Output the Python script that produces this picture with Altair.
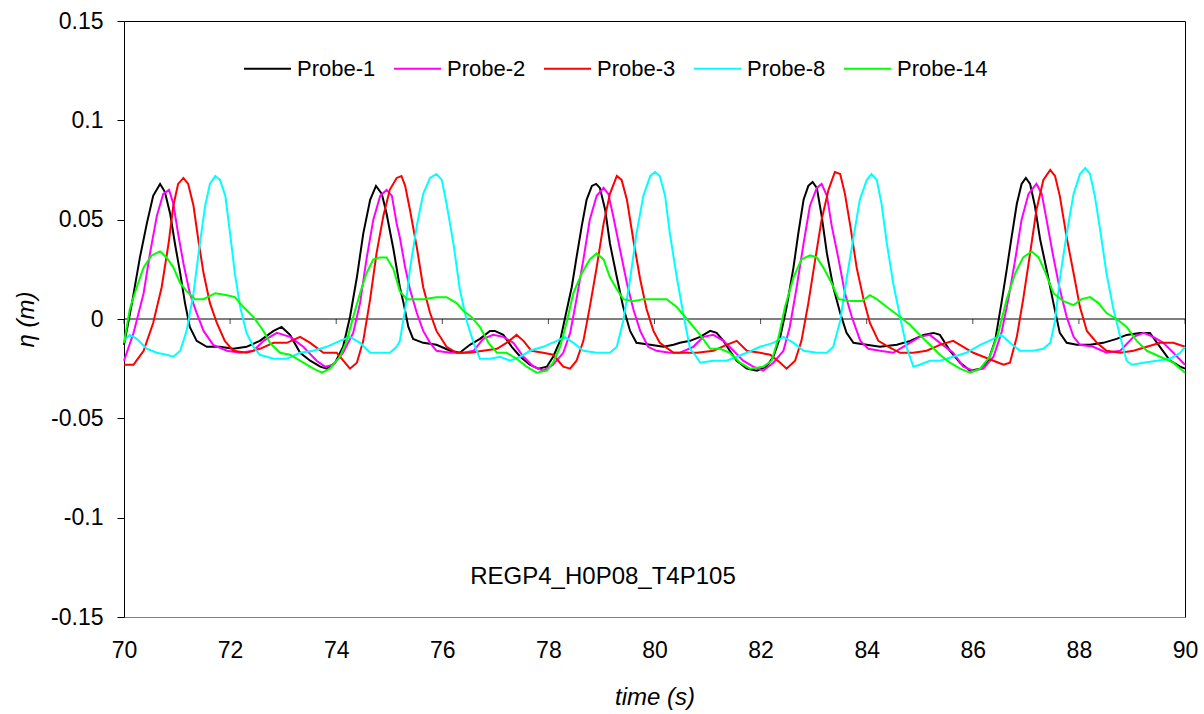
import altair as alt
import pandas as pd

# ---------------- data ----------------
t_p1 = [70.00, 70.15, 70.30, 70.43, 70.55, 70.68, 70.77, 70.87, 70.96, 71.06, 71.15, 71.24, 71.37, 71.56, 71.81,
        72.06, 72.31, 72.56, 72.82, 72.97, 73.13, 73.32, 73.51, 73.70, 73.82, 73.98, 74.13, 74.26, 74.39, 74.51,
        74.64, 74.75, 74.86, 74.95, 75.08, 75.20, 75.27, 75.36, 75.45, 75.64, 75.89, 76.15, 76.33, 76.52, 76.71,
        76.90, 76.99, 77.15, 77.31, 77.47, 77.65, 77.81, 77.97, 78.09, 78.22, 78.35, 78.44, 78.53, 78.63, 78.72,
        78.82, 78.90, 78.97, 79.07, 79.16, 79.29, 79.41, 79.54, 79.66, 79.92, 80.17, 80.36, 80.48, 80.67, 80.86,
        81.05, 81.17, 81.30, 81.42, 81.55, 81.74, 81.93, 82.11, 82.24, 82.37, 82.49, 82.62, 82.71, 82.81, 82.90,
        82.98, 83.06, 83.15, 83.25, 83.37, 83.50, 83.62, 83.75, 84.00, 84.25, 84.57, 84.82, 85.07, 85.26, 85.38,
        85.57, 85.76, 85.95, 86.14, 86.29, 86.42, 86.54, 86.64, 86.73, 86.83, 86.92, 87.00, 87.08, 87.17, 87.27,
        87.39, 87.52, 87.64, 87.77, 87.96, 88.21, 88.46, 88.71, 88.90, 89.15, 89.34, 89.50, 89.72, 89.91, 90.00]
v_p1 = [-0.013, 0.008, 0.031, 0.048, 0.062, 0.068, 0.064, 0.053, 0.038, 0.023, 0.008, -0.004, -0.011, -0.014, -0.014,
        -0.015, -0.014, -0.011, -0.006, -0.004, -0.008, -0.017, -0.021, -0.024, -0.025, -0.022, -0.014, 0.001, 0.021, 0.043,
        0.060, 0.067, 0.063, 0.053, 0.035, 0.016, 0.008, -0.004, -0.010, -0.012, -0.013, -0.016, -0.017, -0.013, -0.010,
        -0.006, -0.006, -0.008, -0.014, -0.019, -0.023, -0.025, -0.024, -0.019, -0.011, 0.005, 0.016, 0.031, 0.047, 0.060,
        0.067, 0.068, 0.066, 0.055, 0.038, 0.021, 0.006, -0.006, -0.012, -0.013, -0.014, -0.013, -0.012, -0.011, -0.009,
        -0.006, -0.007, -0.011, -0.016, -0.021, -0.025, -0.026, -0.024, -0.019, -0.009, 0.006, 0.026, 0.043, 0.060, 0.067,
        0.069, 0.066, 0.052, 0.033, 0.016, 0.003, -0.007, -0.012, -0.013, -0.014, -0.013, -0.011, -0.008, -0.007, -0.008,
        -0.016, -0.022, -0.026, -0.025, -0.021, -0.011, 0.008, 0.025, 0.041, 0.058, 0.068, 0.071, 0.068, 0.057, 0.040,
        0.025, 0.008, -0.007, -0.012, -0.013, -0.013, -0.012, -0.010, -0.008, -0.007, -0.007, -0.013, -0.021, -0.024, -0.025]

t_p2 = [70.00, 70.18, 70.37, 70.49, 70.62, 70.74, 70.85, 70.93, 71.02, 71.12, 71.24, 71.37, 71.50, 71.68, 71.94,
        72.19, 72.44, 72.63, 72.88, 73.13, 73.38, 73.63, 73.79, 73.95, 74.13, 74.32, 74.45, 74.57, 74.70, 74.83,
        74.95, 75.05, 75.14, 75.20, 75.30, 75.39, 75.52, 75.64, 75.77, 75.89, 76.15, 76.40, 76.59, 76.77, 76.96,
        77.15, 77.34, 77.53, 77.72, 77.90, 78.09, 78.28, 78.41, 78.53, 78.66, 78.78, 78.91, 79.04, 79.13, 79.22,
        79.35, 79.48, 79.60, 79.73, 79.88, 80.04, 80.29, 80.48, 80.73, 80.92, 81.11, 81.30, 81.49, 81.67, 81.86,
        82.05, 82.24, 82.43, 82.55, 82.68, 82.81, 82.93, 83.06, 83.15, 83.25, 83.34, 83.47, 83.59, 83.72, 83.88,
        84.03, 84.25, 84.50, 84.75, 85.00, 85.19, 85.38, 85.63, 85.82, 86.01, 86.20, 86.39, 86.54, 86.67, 86.80,
        86.92, 87.05, 87.20, 87.30, 87.39, 87.52, 87.64, 87.77, 87.90, 88.02, 88.27, 88.52, 88.78, 89.03, 89.22,
        89.40, 89.59, 89.78, 90.00]
v_p2 = [-0.021, -0.007, 0.013, 0.033, 0.052, 0.063, 0.065, 0.058, 0.043, 0.028, 0.013, 0.003, -0.006, -0.013, -0.016,
        -0.017, -0.016, -0.011, -0.007, -0.009, -0.014, -0.021, -0.024, -0.023, -0.017, -0.007, 0.008, 0.030, 0.050, 0.062,
        0.065, 0.062, 0.048, 0.041, 0.026, 0.015, 0.003, -0.006, -0.012, -0.016, -0.017, -0.017, -0.016, -0.010, -0.008,
        -0.009, -0.012, -0.019, -0.024, -0.026, -0.023, -0.017, -0.007, 0.010, 0.030, 0.050, 0.062, 0.066, 0.063, 0.052,
        0.035, 0.018, 0.005, -0.006, -0.014, -0.016, -0.017, -0.017, -0.014, -0.009, -0.008, -0.011, -0.016, -0.021, -0.024,
        -0.026, -0.022, -0.016, -0.004, 0.016, 0.038, 0.057, 0.066, 0.068, 0.062, 0.047, 0.030, 0.013, 0.001, -0.011,
        -0.015, -0.016, -0.017, -0.013, -0.009, -0.008, -0.012, -0.017, -0.024, -0.026, -0.025, -0.019, -0.007, 0.010, 0.030,
        0.050, 0.063, 0.068, 0.063, 0.050, 0.031, 0.015, 0.001, -0.009, -0.013, -0.014, -0.017, -0.016, -0.009, -0.007,
        -0.009, -0.012, -0.017, -0.023]

t_p3 = [70.00, 70.18, 70.37, 70.55, 70.71, 70.84, 70.93, 71.02, 71.12, 71.21, 71.31, 71.40, 71.50, 71.62, 71.75,
        71.90, 72.06, 72.31, 72.56, 72.82, 73.07, 73.32, 73.51, 73.76, 74.01, 74.26, 74.39, 74.51, 74.64, 74.76,
        74.89, 75.01, 75.14, 75.23, 75.30, 75.39, 75.52, 75.64, 75.77, 75.89, 76.08, 76.27, 76.52, 76.77, 77.03,
        77.21, 77.40, 77.53, 77.68, 77.90, 78.09, 78.28, 78.41, 78.53, 78.66, 78.78, 78.91, 79.04, 79.16, 79.29,
        79.38, 79.48, 79.60, 79.73, 79.85, 79.98, 80.10, 80.36, 80.61, 80.80, 81.11, 81.36, 81.55, 81.74, 81.99,
        82.18, 82.37, 82.49, 82.65, 82.77, 82.90, 83.03, 83.15, 83.28, 83.40, 83.50, 83.59, 83.69, 83.81, 83.94,
        84.06, 84.22, 84.41, 84.63, 84.88, 85.13, 85.38, 85.63, 85.82, 86.01, 86.20, 86.39, 86.58, 86.70, 86.83,
        86.95, 87.08, 87.20, 87.33, 87.46, 87.55, 87.64, 87.77, 87.90, 88.02, 88.15, 88.34, 88.52, 88.78, 89.03,
        89.28, 89.53, 89.78, 90.00]
v_p3 = [-0.023, -0.023, -0.016, -0.002, 0.016, 0.038, 0.057, 0.068, 0.071, 0.068, 0.057, 0.040, 0.023, 0.008, -0.002,
        -0.011, -0.016, -0.017, -0.015, -0.012, -0.012, -0.009, -0.012, -0.017, -0.017, -0.025, -0.022, -0.011, 0.010, 0.033,
        0.052, 0.065, 0.071, 0.072, 0.067, 0.055, 0.036, 0.016, 0.003, -0.006, -0.014, -0.017, -0.017, -0.016, -0.015,
        -0.012, -0.008, -0.011, -0.016, -0.017, -0.018, -0.024, -0.025, -0.021, -0.011, 0.006, 0.026, 0.048, 0.063, 0.072,
        0.070, 0.060, 0.040, 0.020, 0.005, -0.006, -0.012, -0.017, -0.017, -0.017, -0.016, -0.013, -0.011, -0.016, -0.017,
        -0.018, -0.022, -0.025, -0.021, -0.011, 0.008, 0.030, 0.050, 0.065, 0.074, 0.073, 0.063, 0.047, 0.026, 0.010,
        -0.002, -0.011, -0.014, -0.017, -0.017, -0.016, -0.013, -0.011, -0.014, -0.017, -0.019, -0.021, -0.023, -0.022, -0.009,
        0.010, 0.033, 0.055, 0.070, 0.075, 0.072, 0.062, 0.041, 0.023, 0.006, -0.006, -0.012, -0.016, -0.017, -0.016,
        -0.014, -0.012, -0.012, -0.014]

t_p8 = [70.00, 70.11, 70.24, 70.43, 70.62, 70.80, 70.93, 71.06, 71.18, 71.31, 71.43, 71.53, 71.62, 71.72, 71.81,
        71.91, 72.00, 72.09, 72.19, 72.31, 72.44, 72.56, 72.82, 73.07, 73.32, 73.57, 73.82, 74.07, 74.26, 74.45,
        74.64, 74.83, 75.01, 75.14, 75.20, 75.30, 75.39, 75.52, 75.64, 75.77, 75.89, 75.99, 76.08, 76.21, 76.33,
        76.46, 76.59, 76.71, 76.90, 77.09, 77.28, 77.47, 77.65, 77.90, 78.16, 78.31, 78.47, 78.66, 78.91, 79.16,
        79.29, 79.41, 79.54, 79.66, 79.79, 79.92, 80.01, 80.10, 80.20, 80.29, 80.42, 80.54, 80.67, 80.79, 80.86,
        81.11, 81.36, 81.55, 81.74, 81.99, 82.24, 82.43, 82.62, 82.81, 83.06, 83.25, 83.37, 83.50, 83.62, 83.75,
        83.87, 84.00, 84.09, 84.19, 84.28, 84.38, 84.50, 84.63, 84.75, 84.88, 85.00, 85.19, 85.38, 85.63, 85.88,
        86.14, 86.39, 86.54, 86.70, 86.89, 87.14, 87.33, 87.46, 87.55, 87.64, 87.77, 87.90, 88.02, 88.12, 88.21,
        88.30, 88.40, 88.52, 88.65, 88.78, 88.90, 89.00, 89.22, 89.47, 89.72, 89.91, 90.00]
v_p8 = [-0.011, -0.008, -0.010, -0.015, -0.017, -0.018, -0.019, -0.016, -0.006, 0.013, 0.038, 0.057, 0.068, 0.072, 0.070,
        0.062, 0.043, 0.023, 0.006, -0.007, -0.014, -0.018, -0.020, -0.020, -0.017, -0.016, -0.014, -0.011, -0.009, -0.012,
        -0.017, -0.017, -0.017, -0.014, -0.011, 0.005, 0.025, 0.047, 0.063, 0.071, 0.073, 0.070, 0.058, 0.038, 0.015,
        -0.001, -0.012, -0.020, -0.020, -0.019, -0.021, -0.019, -0.016, -0.014, -0.011, -0.009, -0.012, -0.016, -0.017, -0.017,
        -0.014, -0.001, 0.020, 0.043, 0.062, 0.072, 0.074, 0.072, 0.062, 0.043, 0.021, 0.003, -0.015, -0.019, -0.022,
        -0.021, -0.021, -0.019, -0.017, -0.014, -0.012, -0.009, -0.012, -0.016, -0.017, -0.017, -0.014, -0.001, 0.020, 0.041,
        0.060, 0.070, 0.073, 0.070, 0.058, 0.038, 0.018, 0.001, -0.014, -0.024, -0.023, -0.021, -0.021, -0.019, -0.017,
        -0.013, -0.010, -0.008, -0.012, -0.016, -0.016, -0.015, -0.012, -0.001, 0.020, 0.043, 0.063, 0.073, 0.076, 0.073,
        0.062, 0.045, 0.023, 0.005, -0.009, -0.021, -0.023, -0.022, -0.021, -0.020, -0.017, -0.014]

t_p14 = [70.00, 70.11, 70.24, 70.37, 70.52, 70.68, 70.80, 70.93, 71.06, 71.18, 71.34, 71.50, 71.72, 71.94, 72.09,
         72.25, 72.44, 72.63, 72.75, 72.94, 73.13, 73.38, 73.57, 73.73, 73.88, 74.07, 74.20, 74.32, 74.45, 74.57,
         74.70, 74.83, 74.95, 75.08, 75.20, 75.33, 75.45, 75.64, 75.89, 76.08, 76.27, 76.40, 76.55, 76.71, 76.87,
         77.03, 77.21, 77.40, 77.59, 77.78, 77.97, 78.09, 78.22, 78.35, 78.47, 78.63, 78.78, 78.91, 79.04, 79.16,
         79.29, 79.41, 79.60, 79.79, 79.98, 80.23, 80.42, 80.61, 80.86, 81.05, 81.24, 81.42, 81.61, 81.80, 82.05,
         82.21, 82.34, 82.46, 82.62, 82.77, 82.93, 83.06, 83.18, 83.34, 83.47, 83.69, 83.91, 84.06, 84.19, 84.38,
         84.63, 84.82, 85.00, 85.19, 85.38, 85.57, 85.76, 85.95, 86.14, 86.32, 86.48, 86.64, 86.80, 86.95, 87.11,
         87.24, 87.36, 87.52, 87.71, 87.90, 88.05, 88.21, 88.37, 88.52, 88.71, 88.90, 89.09, 89.28, 89.53, 89.78,
         90.00]
v_p14 = [-0.012, 0.005, 0.016, 0.026, 0.032, 0.034, 0.031, 0.026, 0.018, 0.014, 0.010, 0.010, 0.013, 0.012, 0.011,
         0.006, 0.001, -0.006, -0.012, -0.017, -0.018, -0.022, -0.025, -0.027, -0.025, -0.019, -0.011, 0.001, 0.013, 0.023,
         0.030, 0.031, 0.031, 0.025, 0.014, 0.010, 0.010, 0.010, 0.011, 0.011, 0.008, 0.004, 0.001, -0.004, -0.012,
         -0.017, -0.017, -0.020, -0.024, -0.027, -0.026, -0.022, -0.014, -0.001, 0.013, 0.023, 0.030, 0.033, 0.030, 0.021,
         0.015, 0.010, 0.009, 0.010, 0.010, 0.010, 0.006, 0.000, -0.008, -0.015, -0.015, -0.017, -0.022, -0.025, -0.024,
         -0.021, -0.009, 0.006, 0.021, 0.030, 0.032, 0.031, 0.026, 0.018, 0.010, 0.009, 0.009, 0.012, 0.010, 0.006,
         0.001, -0.003, -0.008, -0.013, -0.018, -0.022, -0.025, -0.027, -0.025, -0.019, -0.007, 0.010, 0.023, 0.031, 0.034,
         0.031, 0.024, 0.013, 0.009, 0.007, 0.010, 0.011, 0.008, 0.003, 0.000, -0.004, -0.011, -0.016, -0.019, -0.022,
         -0.027]

series_names = ["Probe-1", "Probe-2", "Probe-3", "Probe-8", "Probe-14"]
series_colors = ["#000000", "#FF00FF", "#FF0000", "#00FFFF", "#00FF00"]
x_tick_values = [70, 72, 74, 76, 78, 80, 82, 84, 86, 88, 90]
y_tick_values = [-0.15, -0.1, -0.05, 0, 0.05, 0.1, 0.15]
case_label = ["REGP4_H0P08_T4P105"]

# ---------------- build table ----------------
rows = []
for name, ts, vs in zip(series_names, [t_p1, t_p2, t_p3, t_p8, t_p14], [v_p1, v_p2, v_p3, v_p8, v_p14]):
    for i, (t, v) in enumerate(zip(ts, vs)):
        rows.append({"series": name, "time": t, "eta": v, "idx": i})
df = pd.DataFrame(rows)

FONT = "Liberation Sans"
W, H = 1061, 596

x_scale = alt.Scale(domain=[70, 90], nice=False, zero=False)
y_scale = alt.Scale(domain=[-0.15, 0.15], nice=False, zero=False)

y_label_expr = "datum.value < 0 ? '-' + format(-datum.value, '.2~f') : format(datum.value, '.2~f')"

lines = alt.Chart(df).mark_line(strokeWidth=2, interpolate="linear").encode(
    x=alt.X("time:Q", scale=x_scale,
            axis=alt.Axis(values=x_tick_values, title="time (s)", ticks=False, tickSize=0,
                          labelFlush=False, labelOverlap=False,
                          domainColor="#808080", domainWidth=1, grid=False,
                          labelFont=FONT, labelFontSize=23, labelColor="black", labelPadding=22,
                          titleFont=FONT, titleFontSize=24, titleFontStyle="italic", titleFontWeight="normal",
                          titleColor="black", titleY=80, titleBaseline="middle")),
    y=alt.Y("eta:Q", scale=y_scale,
            axis=alt.Axis(values=y_tick_values, title="η (m)", labelExpr=y_label_expr,
                          tickSize=7, tickColor="black", domainColor="black", grid=False,
                          labelFlush=False, labelOverlap=False,
                          labelFont=FONT, labelFontSize=23, labelColor="black", labelPadding=14,
                          titleFont=FONT, titleFontSize=24, titleFontStyle="italic", titleFontWeight="normal",
                          titleColor="black", titleX=-98, titleY=H / 2, titleAlign="center",
                          titleBaseline="middle")),
    color=alt.Color("series:N", scale=alt.Scale(domain=series_names, range=series_colors),
                    legend=alt.Legend(title=None, orient="none", legendX=119, legendY=23,
                                      direction="horizontal", symbolType="stroke", symbolSize=2209,
                                      symbolStrokeWidth=2, labelFont=FONT, labelFontSize=22,
                                      labelColor="black", labelOffset=5, columnPadding=14, padding=0)),
    order=alt.Order("idx:Q"),
)

zero_line = alt.Chart(pd.DataFrame({"z": [0]})).mark_rule(color="black", strokeWidth=1).encode(
    y=alt.Y("z:Q", scale=y_scale)
)

zero_ticks = alt.Chart(pd.DataFrame({"t": x_tick_values})).mark_tick(
    orient="vertical", size=5, thickness=1, yOffset=2.5, color="black"
).encode(
    x=alt.X("t:Q", scale=x_scale),
    y=alt.datum(0),
)

label = alt.Chart(pd.DataFrame({"label": case_label})).mark_text(
    font=FONT, fontSize=24, color="black", align="center", baseline="middle"
).encode(
    x=alt.value(479), y=alt.value(556), text="label:N"
)

chart = alt.layer(zero_line, zero_ticks, lines, label).properties(
    width=W, height=H,
    padding={"left": 124, "top": 21, "right": 19, "bottom": 97},
    autosize=alt.AutoSizeParams(type="none"),
    background="white",
).configure_view(stroke="black", strokeWidth=1)

chart.save("out.html", embed_options={"renderer": "svg", "actions": False})
